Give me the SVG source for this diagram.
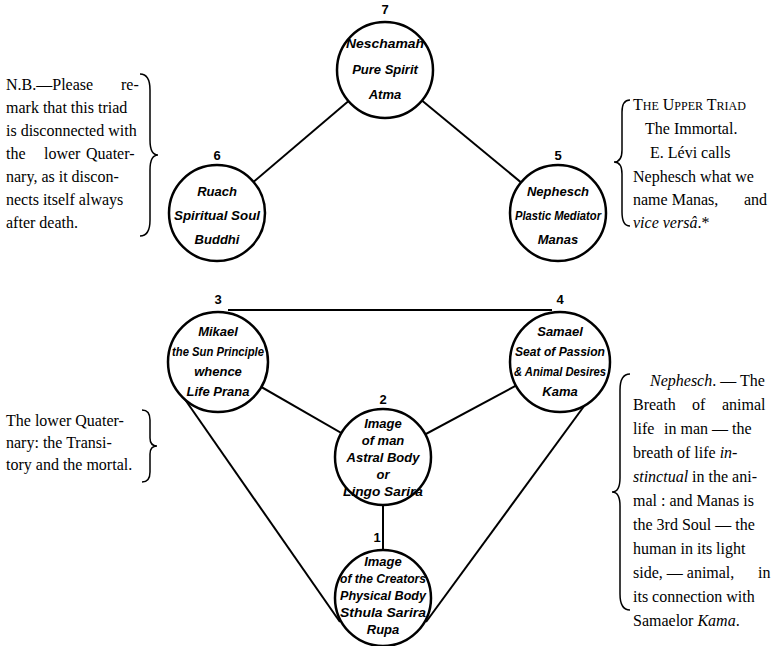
<svg xmlns="http://www.w3.org/2000/svg" width="775" height="646" viewBox="0 0 775 646">
<style>
.c{fill:#fff;stroke:#000;stroke-width:2.5}
.l{stroke:#000;stroke-width:2;fill:none}
.n{font-family:"Liberation Sans",sans-serif;font-weight:bold;font-size:13px;text-anchor:middle}
.h{font-family:"Liberation Sans",sans-serif;font-style:italic;font-weight:bold;font-size:13px;text-anchor:middle}
.s{font-size:12px}
.t{font-family:"Liberation Serif",serif;font-size:16px}
.b{stroke:#000;stroke-width:1.5;fill:none}
</style>
<rect width="775" height="646" fill="#fff"/>
<g id="connectors">
<line class="l" x1="385" y1="70" x2="217" y2="213"/>
<line class="l" x1="385" y1="70" x2="558" y2="213"/>
<line class="l" x1="228" y1="310" x2="552" y2="310"/>
<line class="l" x1="218" y1="362" x2="383" y2="457"/>
<line class="l" x1="560" y1="362" x2="383" y2="457"/>
<line class="l" x1="383" y1="457" x2="383" y2="598"/>
<line class="l" x1="184" y1="398" x2="340" y2="622"/>
<line class="l" x1="590" y1="398" x2="426" y2="622"/>
</g>
<g id="n7"><circle class="c" cx="385" cy="70" r="48"/><text class="n" x="385" y="14">7</text>
<text class="h" x="385" y="48" textLength="78" lengthAdjust="spacingAndGlyphs">Neschamah</text><text class="h" x="385" y="74">Pure Spirit</text><text class="h" x="385" y="99">Atma</text></g>
<g id="n6"><circle class="c" cx="217" cy="213" r="48"/><text class="n" x="217" y="160">6</text>
<text class="h" x="217" y="196">Ruach</text><text class="h" x="217" y="220" textLength="86" lengthAdjust="spacingAndGlyphs">Spiritual Soul</text><text class="h" x="217" y="244">Buddhi</text></g>
<g id="n5"><circle class="c" cx="558" cy="213" r="48"/><text class="n" x="558" y="160">5</text>
<text class="h" x="558" y="196">Nephesch</text><text class="h s" x="558" y="220" textLength="86" lengthAdjust="spacingAndGlyphs">Plastic Mediator</text><text class="h" x="558" y="244">Manas</text></g>
<g id="n3"><circle class="c" cx="218" cy="362" r="50"/><text class="n" x="218" y="304">3</text>
<text class="h" x="218" y="336">Mikael</text><text class="h s" x="218" y="356" textLength="92" lengthAdjust="spacingAndGlyphs">the Sun Principle</text><text class="h" x="218" y="376">whence</text><text class="h" x="218" y="396">Life Prana</text></g>
<g id="n4"><circle class="c" cx="560" cy="362" r="50"/><text class="n" x="560" y="304">4</text>
<text class="h" x="560" y="336">Samael</text><text class="h s" x="560" y="356" textLength="90" lengthAdjust="spacingAndGlyphs">Seat of Passion</text><text class="h s" x="560" y="376" textLength="92" lengthAdjust="spacingAndGlyphs">&amp; Animal Desires</text><text class="h" x="560" y="396">Kama</text></g>
<g id="n2"><circle class="c" cx="383" cy="457" r="48"/><text class="n" x="383" y="404">2</text>
<text class="h" x="383" y="428">Image</text><text class="h" x="383" y="445">of man</text><text class="h" x="383" y="462">Astral Body</text><text class="h" x="383" y="479">or</text><text class="h s" x="383" y="496" textLength="80" lengthAdjust="spacingAndGlyphs">Lingo Sarira</text></g>
<g id="n1"><circle class="c" cx="383" cy="598" r="48"/><text class="n" x="377" y="542">1</text>
<text class="h" x="383" y="566">Image</text><text class="h s" x="383" y="583" textLength="86" lengthAdjust="spacingAndGlyphs">of the Creators</text><text class="h s" x="383" y="600" textLength="86" lengthAdjust="spacingAndGlyphs">Physical Body</text><text class="h s" x="383" y="617" textLength="86" lengthAdjust="spacingAndGlyphs">Sthula Sarira</text><text class="h" x="383" y="634">Rupa</text></g>
<g id="note-upper-left">
<path class="b" d="M140,74 Q150,74 150,90 L150,140 Q150,155 158,155 Q150,155 150,170 L150,220 Q150,236 140,236"/>
<text class="t" x="6" y="90">N.B.—Please <tspan x="121">re-</tspan></text>
<text class="t" x="6" y="113">mark that this triad</text>
<text class="t" x="6" y="136">is disconnected with</text>
<text class="t" x="6" y="159">the <tspan x="44">lower</tspan> <tspan x="86">Quater-</tspan></text>
<text class="t" x="6" y="182">nary, as it discon-</text>
<text class="t" x="6" y="205">nects itself always</text>
<text class="t" x="6" y="228">after death.</text>
</g>
<g id="note-upper-right">
<path class="b" d="M630,100 Q622,100 622,112 L622,150 Q622,162 614,162 Q622,162 622,174 L622,212 Q622,226 630,226"/>
<text class="t" x="633" y="110" font-size="15">T<tspan font-size="12">HE</tspan> U<tspan font-size="12">PPER</tspan> T<tspan font-size="12">RIAD</tspan></text>
<text class="t" x="645" y="134">The Immortal.</text>
<text class="t" x="650" y="158">E. Lévi calls</text>
<text class="t" x="633" y="182">Nephesch what we</text>
<text class="t" x="633" y="205">name Manas, <tspan x="744">and</tspan></text>
<text class="t" x="633" y="228"><tspan font-style="italic">vice versâ</tspan>.*</text>
</g>
<g id="note-lower-left">
<path class="b" d="M142,410 Q150,410 150,420 L150,438 Q150,446 157,446 Q150,446 150,454 L150,472 Q150,482 142,482"/>
<text class="t" x="6" y="426">The lower Quater-</text>
<text class="t" x="6" y="448">nary: the Transi-</text>
<text class="t" x="6" y="470">tory and the mortal.</text>
</g>
<g id="note-lower-right">
<path class="b" d="M630,374 Q620,374 620,390 L620,478 Q620,492 612,492 Q620,492 620,506 L620,594 Q620,610 630,610"/>
<text class="t" x="650" y="386"><tspan font-style="italic">Nephesch</tspan>. — The</text>
<text class="t" x="633" y="410">Breath <tspan x="692">of</tspan> <tspan x="722">animal</tspan></text>
<text class="t" x="633" y="434">life <tspan x="664">in</tspan> man — the</text>
<text class="t" x="633" y="458">breath of life <tspan font-style="italic">in-</tspan></text>
<text class="t" x="633" y="482"><tspan font-style="italic">stinctual</tspan> in the ani-</text>
<text class="t" x="633" y="506">mal : and Manas is</text>
<text class="t" x="633" y="530">the 3rd Soul — the</text>
<text class="t" x="633" y="554">human in its light</text>
<text class="t" x="633" y="578">side, — animal, <tspan x="758">in</tspan></text>
<text class="t" x="633" y="602">its connection with</text>
<text class="t" x="633" y="626">Samaelor <tspan font-style="italic">Kama</tspan>.</text>
</g>
</svg>
